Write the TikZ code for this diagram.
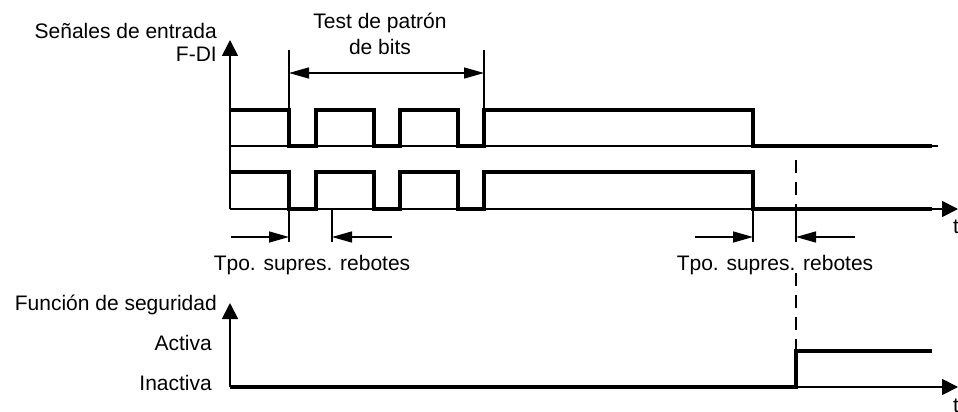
\documentclass[tikz,border=0pt]{standalone}
\usepackage{fontspec}
\setmainfont{Liberation Sans}
\usetikzlibrary{arrows.meta}
\begin{document}
\begin{tikzpicture}[x=1pt,y=-1pt,
  sig/.style={line width=3.4pt, line join=miter},
  axisline/.style={line width=1.8pt},
  axarrow/.style={-{Triangle[length=16pt,width=16pt]}},
  markline/.style={line width=1.5pt},
  dimarr/.style={line width=1.5pt, -{Triangle[length=20pt,width=11pt]}},
  dimboth/.style={line width=1.5pt, {Triangle[length=20pt,width=11pt]}-{Triangle[length=20pt,width=11pt]}},
  dashline/.style={line width=1.1pt, dash pattern=on 13pt off 9pt},
  lbl/.style={font=\fontsize{21}{25}\selectfont, inner sep=0pt}
]
\useasboundingbox (0,0) rectangle (958,412);

% ---------- upper chart ----------
\coordinate (o1) at (230,209);
\coordinate (ytop) at (230,40);
\coordinate (xend) at (958,209);
\draw[axisline,axarrow] (o1) -- (ytop);
\draw[axisline] (230,146) -- (938,146);
\draw[axisline,axarrow] (o1) -- (xend);

% signal 1
\draw[sig] (230,110) -- (289,110) -- (289,146) -- (316,146) -- (316,110)
  -- (374,110) -- (374,146) -- (400,146) -- (400,110) -- (458,110)
  -- (458,146) -- (484,146) -- (484,110) -- (753,110) -- (753,146) -- (932,146);
% signal 2
\draw[sig] (230,172) -- (289,172) -- (289,209) -- (316,209) -- (316,172)
  -- (374,172) -- (374,209) -- (400,209) -- (400,172) -- (458,172)
  -- (458,209) -- (484,209) -- (484,172) -- (753,172) -- (753,209) -- (932,209);

% bit pattern test markers
\coordinate (m1t) at (289,50);
\coordinate (m1b) at (289,110);
\coordinate (m2t) at (484,50);
\coordinate (m2b) at (484,110);
\draw[markline] (m1t) -- (m1b);
\draw[markline] (m2t) -- (m2b);
\coordinate (d1) at (289,73);
\coordinate (d2) at (484,73);
\draw[dimboth] (d1) -- (d2);

% debounce markers
\coordinate (a1) at (289,200);
\coordinate (a1b) at (289,242);
\coordinate (a2) at (332,209);
\coordinate (a2b) at (332,242);
\coordinate (b1) at (753,209);
\coordinate (b1b) at (753,242);
\coordinate (b2) at (796,208);
\coordinate (b2b) at (796,242);
\draw[markline] (a1) -- (a1b);
\draw[markline] (a2) -- (a2b);
\draw[markline] (b1) -- (b1b);
\draw[markline] (b2) -- (b2b);
\coordinate (c1) at (796,160);
\coordinate (c2) at (796,273);
\coordinate (c3) at (796,351);
\draw[dashline] (c1) -- (b2);
\draw[dashline] (c2) -- (c3);

\coordinate (p1s) at (231,237);
\coordinate (p1e) at (289,237);
\coordinate (p2s) at (392,237);
\coordinate (p2e) at (332,237);
\coordinate (q1s) at (695,237);
\coordinate (q1e) at (753,237);
\coordinate (q2s) at (855,237);
\coordinate (q2e) at (796,237);
\draw[dimarr] (p1s) -- (p1e);
\draw[dimarr] (p2s) -- (p2e);
\draw[dimarr] (q1s) -- (q1e);
\draw[dimarr] (q2s) -- (q2e);

% labels upper
\node[lbl, anchor=base east] (sen) at (217,38) {Señales de entrada};
\node[lbl, anchor=base east] (fdi) at (217,62) {F-DI};
\node[lbl, anchor=base] (test1) at (380,29) {Test de patrón};
\node[lbl, anchor=base] (test2) at (380,55) {de bits};
\node[lbl, anchor=base] (tpo1) at (312,270) {Tpo. supres. rebotes};
\node[lbl, anchor=base] (tpo2) at (775,270) {Tpo. supres. rebotes};
\node[lbl, anchor=base west] (t1) at (953,233) {t};

% ---------- lower chart ----------
\coordinate (o2) at (230,387);
\coordinate (ytop2) at (230,303);
\coordinate (xend2) at (958,387);
\draw[axisline,axarrow] (o2) -- (ytop2);
\draw[axisline,axarrow] (o2) -- (xend2);
\draw[sig] (230,387) -- (796,387) -- (796,351) -- (932,351);

\node[lbl, anchor=base east] (fun) at (217,310) {Función de seguridad};
\node[lbl, anchor=base east] (act) at (212,350) {Activa};
\node[lbl, anchor=base east] (ina) at (212,390) {Inactiva};
\node[lbl, anchor=base west] (t2) at (953,412) {t};
\end{tikzpicture}
\end{document}
